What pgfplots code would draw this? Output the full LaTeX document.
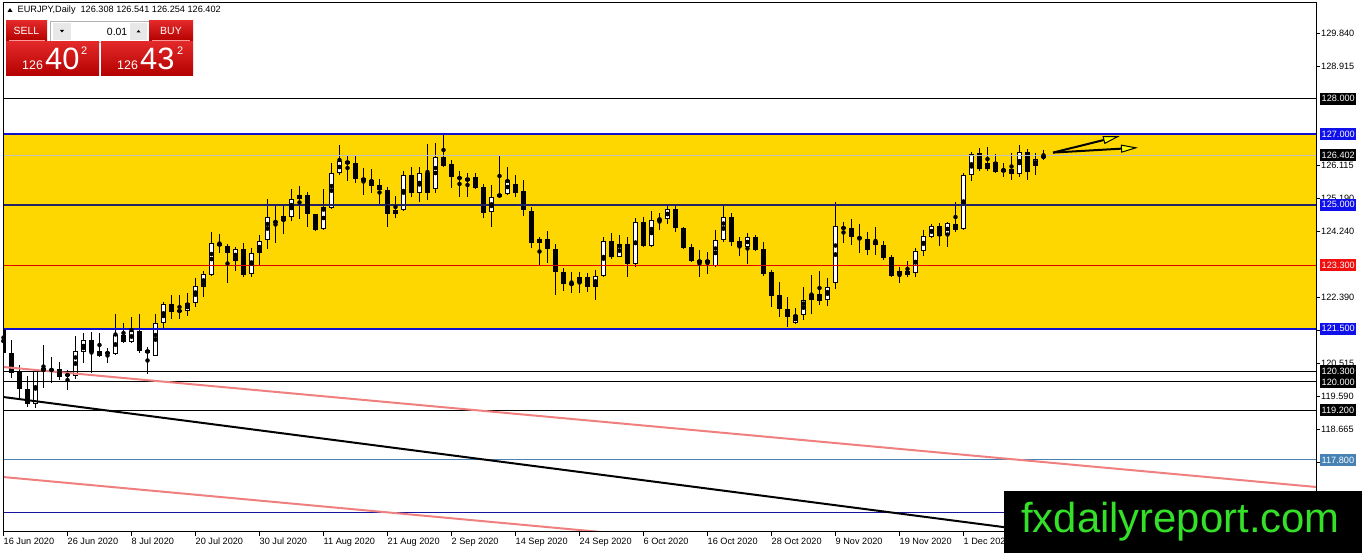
\documentclass[border=0pt]{standalone}
\usepackage{pgfplots}
\pgfplotsset{compat=1.18}
\usepackage{pgfplotstable}
\usepackage{fontspec}
\setmainfont{Liberation Sans}
\usetikzlibrary{arrows.meta}
\definecolor{gold}{RGB}{255,215,0}
\definecolor{mtblue}{RGB}{16,16,205}
\definecolor{boxblue}{RGB}{16,16,235}
\definecolor{mtnavy}{RGB}{35,35,95}
\definecolor{mtred}{RGB}{225,0,0}
\definecolor{boxred}{RGB}{240,16,16}
\definecolor{steel}{RGB}{70,130,180}
\definecolor{pinkline}{RGB}{240,128,128}
\definecolor{pricegrey}{RGB}{192,192,192}
\definecolor{btnred1}{RGB}{226,40,40}
\definecolor{btnred2}{RGB}{180,0,0}
\definecolor{wmgreen}{RGB}{52,224,40}
\definecolor{arryellow}{RGB}{255,255,0}
\newcommand\tickfont{\fontsize{9.2}{10}\selectfont}

\pgfplotstableread{
i O H L C
0 121.494 122.031 120.478 120.817
1 120.817 121.184 120.111 120.252
2 120.281 120.478 119.546 119.801
3 119.801 120.168 119.292 119.377
4 119.377 120.365 119.264 120.309
5 120.281 121.043 119.829 120.393
6 120.365 120.704 119.970 120.309
7 120.365 120.563 120.055 120.139
8 120.168 120.337 119.772 120.224
9 120.168 121.297 120.083 120.874
10 120.846 121.381 120.534 121.184
11 121.184 121.410 120.252 120.846
12 120.874 121.381 120.704 120.733
13 120.789 120.958 120.534 120.846
14 120.789 121.918 120.761 121.325
15 121.325 121.664 121.100 121.128
16 121.128 121.834 121.100 121.438
17 121.438 121.918 120.817 120.874
18 120.902 120.987 120.224 120.817
19 120.733 121.918 120.733 121.664
20 121.664 122.257 121.466 122.200
21 122.200 122.454 121.777 121.975
22 121.975 122.454 121.777 122.031
23 122.003 122.511 121.862 122.228
24 122.228 122.934 122.116 122.708
25 122.680 123.132 122.398 123.047
26 123.019 124.233 122.991 123.923
27 123.923 124.177 123.640 123.838
28 123.838 123.894 122.793 123.640
29 123.415 123.810 123.132 123.753
30 123.753 123.923 122.963 123.019
31 123.047 123.781 122.963 123.640
32 123.640 124.149 123.274 123.979
33 124.007 125.165 123.753 124.657
34 124.487 124.967 123.923 124.544
35 124.544 124.967 124.177 124.685
36 124.657 125.447 124.544 125.165
37 125.165 125.532 124.600 125.278
38 125.278 125.363 124.374 124.741
39 124.741 124.741 124.261 124.290
40 124.318 125.447 124.290 124.939
41 124.911 126.181 124.882 125.899
42 125.899 126.689 125.843 126.238
43 126.238 126.407 125.673 126.153
44 126.181 126.407 125.617 125.730
45 125.758 126.040 125.278 125.673
46 125.701 126.012 125.334 125.532
47 125.560 125.730 124.967 125.419
48 125.419 125.504 124.374 124.741
49 124.741 125.250 124.628 124.854
50 124.854 125.956 124.826 125.843
51 125.843 126.068 125.222 125.334
52 125.334 126.068 125.080 125.899
53 125.899 126.718 125.137 125.334
54 125.447 126.746 125.334 126.351
55 126.351 127.028 126.068 126.097
56 126.153 126.266 125.475 125.786
57 125.786 125.956 125.222 125.730
58 125.758 125.899 125.222 125.673
59 125.786 125.899 125.447 125.475
60 125.504 125.589 124.628 124.769
61 124.798 125.560 124.374 125.222
62 125.222 126.407 125.222 125.306
63 125.306 126.068 125.278 125.701
64 125.589 125.843 125.222 125.334
65 125.391 125.701 124.685 124.854
66 124.826 124.939 123.781 123.923
67 123.923 124.092 123.274 124.036
68 124.036 124.261 123.358 123.753
69 123.753 123.894 122.454 123.104
70 123.104 123.217 122.567 122.765
71 122.793 123.104 122.511 122.737
72 122.793 123.104 122.511 122.963
73 122.963 123.075 122.539 122.680
74 122.680 123.160 122.313 122.991
75 122.991 124.092 122.963 123.979
76 123.979 124.205 123.471 123.527
77 123.527 124.149 123.527 123.894
78 123.894 124.092 122.963 123.330
79 123.330 124.628 123.245 124.515
80 124.515 124.657 123.810 123.838
81 123.838 124.826 123.810 124.572
82 124.600 124.769 124.290 124.572
83 124.600 125.024 124.459 124.882
84 124.882 124.967 124.233 124.346
85 124.346 124.374 123.753 123.781
86 123.810 123.894 123.387 123.415
87 123.443 123.725 122.963 123.358
88 123.358 123.668 123.047 123.443
89 123.274 124.290 123.245 124.007
90 124.007 124.995 123.951 124.657
91 124.657 124.769 123.838 123.951
92 123.979 124.092 123.556 123.810
93 123.810 124.205 123.330 124.092
94 124.092 124.149 123.697 123.725
95 123.753 123.951 122.991 123.047
96 123.104 123.160 122.116 122.426
97 122.454 122.822 121.834 122.059
98 122.059 122.398 121.551 121.834
99 121.664 122.087 121.636 121.890
100 121.890 122.680 121.749 122.313
101 122.313 123.019 121.918 122.482
102 122.482 123.132 122.172 122.285
103 122.313 122.934 122.144 122.680
104 122.793 125.080 122.624 124.402
105 124.374 124.515 123.923 124.318
106 124.346 124.600 123.866 124.092
107 124.092 124.459 123.640 124.036
108 124.036 124.233 123.584 123.725
109 123.979 124.374 123.584 123.866
110 123.866 123.979 123.443 123.499
111 123.527 123.584 122.963 122.991
112 123.019 123.245 122.793 123.132
113 123.132 123.415 122.963 123.019
114 123.075 123.781 122.963 123.697
115 123.697 124.290 123.556 124.120
116 124.092 124.459 124.064 124.402
117 124.402 124.487 123.838 124.120
118 124.149 124.515 123.810 124.487
119 124.459 125.080 124.233 124.290
120 124.318 125.899 124.290 125.843
121 125.843 126.492 125.673 126.435
122 126.464 126.605 125.956 126.012
123 126.012 126.633 125.956 126.181
124 126.210 126.435 125.899 125.927
125 125.927 126.181 125.786 126.012
126 126.012 126.464 125.701 125.871
127 125.871 126.689 125.786 126.492
128 126.492 126.577 125.701 125.927
129 126.097 126.464 125.843 126.294
130 126.308 126.541 126.254 126.402
}\candles

\begin{document}
\begin{tikzpicture}
\path[use as bounding box] (0,0) rectangle (1362bp,553bp);
\clip (0,0) rectangle (1362bp,553bp);
\fill[white] (0,0) rectangle (1362bp,553bp);
\begin{axis}[
  at={(3bp,21bp)}, anchor=south west,
  scale only axis, width=1313bp, height=529bp,
  xmin=-0.0625, xmax=164.0625, ymin=115.763, ymax=130.698,
  axis on top,
  axis line style={black, line width=1bp},
  xtick={0,8,...,120},
  xticklabels={16 Jun 2020,26 Jun 2020,8 Jul 2020,20 Jul 2020,30 Jul 2020,11 Aug 2020,21 Aug 2020,2 Sep 2020,14 Sep 2020,24 Sep 2020,6 Oct 2020,16 Oct 2020,28 Oct 2020,9 Nov 2020,19 Nov 2020,1 Dec 2020},
  ytick={117.74,118.665,119.59,120.515,121.465,122.39,124.24,125.19,126.115,128.915,129.84},
  yticklabels={117.740,118.665,119.590,120.515,121.465,122.390,124.240,125.190,126.115,128.915,129.840},
  xtick pos=bottom, ytick pos=right, yticklabel pos=right,
  tick align=outside, major tick length=4bp,
  tick style={black, line width=0.8bp},
  xticklabel style={anchor=north west, xshift=-1bp, yshift=-1bp, inner sep=1bp, font=\tickfont},
  yticklabel style={anchor=west, inner sep=1bp, font=\tickfont},
]
% support / resistance zone
\addplot[draw=none, fill=gold] coordinates {(-1,121.5) (166,121.5) (166,127) (-1,127) (-1,121.5)};
% wicks
\addplot[only marks, mark=none, error bars/.cd, y dir=both, y explicit, error mark=none,
  error bar style={black, line width=1bp, solid}]
  table[x=i, y expr={(\thisrow{H}+\thisrow{L})/2}, y error expr={(\thisrow{H}-\thisrow{L})/2}] {\candles};
% bodies (outline / black)
\addplot[only marks, mark=none, error bars/.cd, y dir=both, y explicit, error mark=none,
  error bar style={black, line width=5.4bp, line cap=butt, solid}]
  table[x=i, y expr={(\thisrow{O}+\thisrow{C})/2}, y error expr={max(abs(\thisrow{C}-\thisrow{O})/2,0.016)}] {\candles};
% bodies (white fill of bullish candles)
\addplot[only marks, mark=none, error bars/.cd, y dir=both, y explicit, error mark=none,
  error bar style={white, line width=3.4bp, line cap=butt, solid}]
  table[x=i, y expr={(\thisrow{O}+\thisrow{C})/2}, y error expr={(\thisrow{C}>\thisrow{O})*max(abs(\thisrow{C}-\thisrow{O})/2-0.0282,0)}] {\candles};
% horizontal levels
\addplot[black, line width=1bp] coordinates {(-1,128) (166,128)};
\addplot[mtblue, line width=2bp] coordinates {(-1,127) (166,127)};
\addplot[pricegrey, line width=1bp] coordinates {(-1,126.402) (166,126.402)};
\addplot[mtnavy, line width=2.2bp] coordinates {(-1,125) (166,125)};
\addplot[mtred, line width=1bp] coordinates {(-1,123.3) (166,123.3)};
\addplot[mtblue, line width=2bp] coordinates {(-1,121.5) (166,121.5)};
\addplot[black, line width=1bp] coordinates {(-1,120.3) (166,120.3)};
\addplot[black, line width=1bp] coordinates {(-1,120) (166,120)};
\addplot[black, line width=1bp] coordinates {(-1,119.2) (166,119.2)};
\addplot[steel, line width=1bp] coordinates {(-1,117.8) (166,117.8)};
\addplot[mtnavy!60!blue, line width=1bp] coordinates {(-1,116.3) (166,116.3)};
% trend lines
\addplot[pinkline, line width=2bp] coordinates {(-0.0625,120.422) (164.0625,117.034)};
\addplot[black, line width=2bp] coordinates {(-0.0625,119.575) (164.0625,114.755)};
\addplot[pinkline, line width=2bp] coordinates {(-0.0625,117.316) (164.0625,113.905)};
% arrows
\addplot[black, line width=2bp, -{Triangle[length=17bp,width=8bp,fill=arryellow,line width=1bp]}] coordinates {(131.19,126.474) (139.56,126.943)};
\addplot[black, line width=2bp, -{Triangle[length=17bp,width=8bp,fill=arryellow,line width=1bp]}] coordinates {(131.19,126.474) (141.81,126.613)};
% anchors for price boxes
\coordinate (c128) at (axis cs:164.0625,128);
\coordinate (c127) at (axis cs:164.0625,127);
\coordinate (c1264) at (axis cs:164.0625,126.402);
\coordinate (c125) at (axis cs:164.0625,125);
\coordinate (c1233) at (axis cs:164.0625,123.3);
\coordinate (c1215) at (axis cs:164.0625,121.5);
\coordinate (c1203) at (axis cs:164.0625,120.3);
\coordinate (c120) at (axis cs:164.0625,120);
\coordinate (c1192) at (axis cs:164.0625,119.2);
\coordinate (c1178) at (axis cs:164.0625,117.8);
\end{axis}
\tikzset{lbl/.style={anchor=west, inner xsep=1.5bp, inner ysep=0bp, minimum height=12bp, text=white, font=\tickfont}}
\node[lbl, fill=black] at ([xshift=4bp]c128) {128.000};
\node[lbl, fill=boxblue] at ([xshift=4bp]c127) {127.000};
\node[lbl, fill=black] at ([xshift=4bp]c1264) {126.402};
\node[lbl, fill=boxblue] at ([xshift=4bp]c125) {125.000};
\node[lbl, fill=boxred] at ([xshift=4bp]c1233) {123.300};
\node[lbl, fill=boxblue] at ([xshift=4bp]c1215) {121.500};
\node[lbl, fill=black] at ([xshift=4bp]c1203) {120.300};
\node[lbl, fill=black] at ([xshift=4bp]c120) {120.000};
\node[lbl, fill=black] at ([xshift=4bp]c1192) {119.200};
\node[lbl, fill=steel] at ([xshift=4bp]c1178) {117.800};
\begin{scope}[x=1bp, y=1bp]
% header
\fill[black] (7.5,541) -- (12.5,541) -- (10,545) -- cycle;
\node[anchor=west, inner sep=0, font=\tickfont] at (17.5,543) {EURJPY,Daily\hspace{5bp}126.308 126.541 126.254 126.402};
% trade panel
\fill[top color=btnred1, bottom color=btnred2] (6,532) rectangle (47,512);
\draw[red!40!white, line width=0.6bp] (9,512.5) -- (45,512.5);
\node[text=white, font=\fontsize{10.5}{12}\selectfont] at (26.5,522) {SELL};
\draw[gray!60, fill=white] (50,532) rectangle (149,511);
\fill[gray!18] (53,530) rectangle (71,513);
\fill[gray!18] (130,530) rectangle (147,513);
\fill[black] (60,523) -- (64,523) -- (62,520.5) -- cycle;
\fill[black] (136.5,520.5) -- (140.5,520.5) -- (138.5,523) -- cycle;
\node[anchor=east, inner sep=0, font=\fontsize{10.5}{12}\selectfont] at (127.5,521.5) {0.01};
\fill[top color=btnred1, bottom color=btnred2] (149,532) rectangle (193,512);
\draw[red!40!white, line width=0.6bp] (152,512.5) -- (190,512.5);
\node[text=white, font=\fontsize{10.5}{12}\selectfont] at (171,522) {BUY};
\fill[top color=btnred1, bottom color=btnred2] (6,511) rectangle (99,477);
\fill[top color=btnred1, bottom color=btnred2] (101,511) rectangle (193,477);
\node[anchor=base west, inner sep=0, text=white, font=\fontsize{12.5}{13}\selectfont] at (22,483) {126};
\node[anchor=base west, inner sep=0, text=white, font=\fontsize{31}{32}\selectfont] at (45,483) {40};
\node[anchor=base west, inner sep=0, text=white, font=\fontsize{11}{12}\selectfont] at (81,498) {2};
\node[anchor=base west, inner sep=0, text=white, font=\fontsize{12.5}{13}\selectfont] at (117,483) {126};
\node[anchor=base west, inner sep=0, text=white, font=\fontsize{31}{32}\selectfont] at (140,483) {43};
\node[anchor=base west, inner sep=0, text=white, font=\fontsize{11}{12}\selectfont] at (177,498) {2};
% watermark
\fill[black] (1004,0) rectangle (1362,62);
\node[anchor=base west, inner sep=0, text=wmgreen, font=\fontsize{42}{42}\selectfont] at (1021,21) {fxdailyreport.com};
\end{scope}
\end{tikzpicture}
\end{document}
